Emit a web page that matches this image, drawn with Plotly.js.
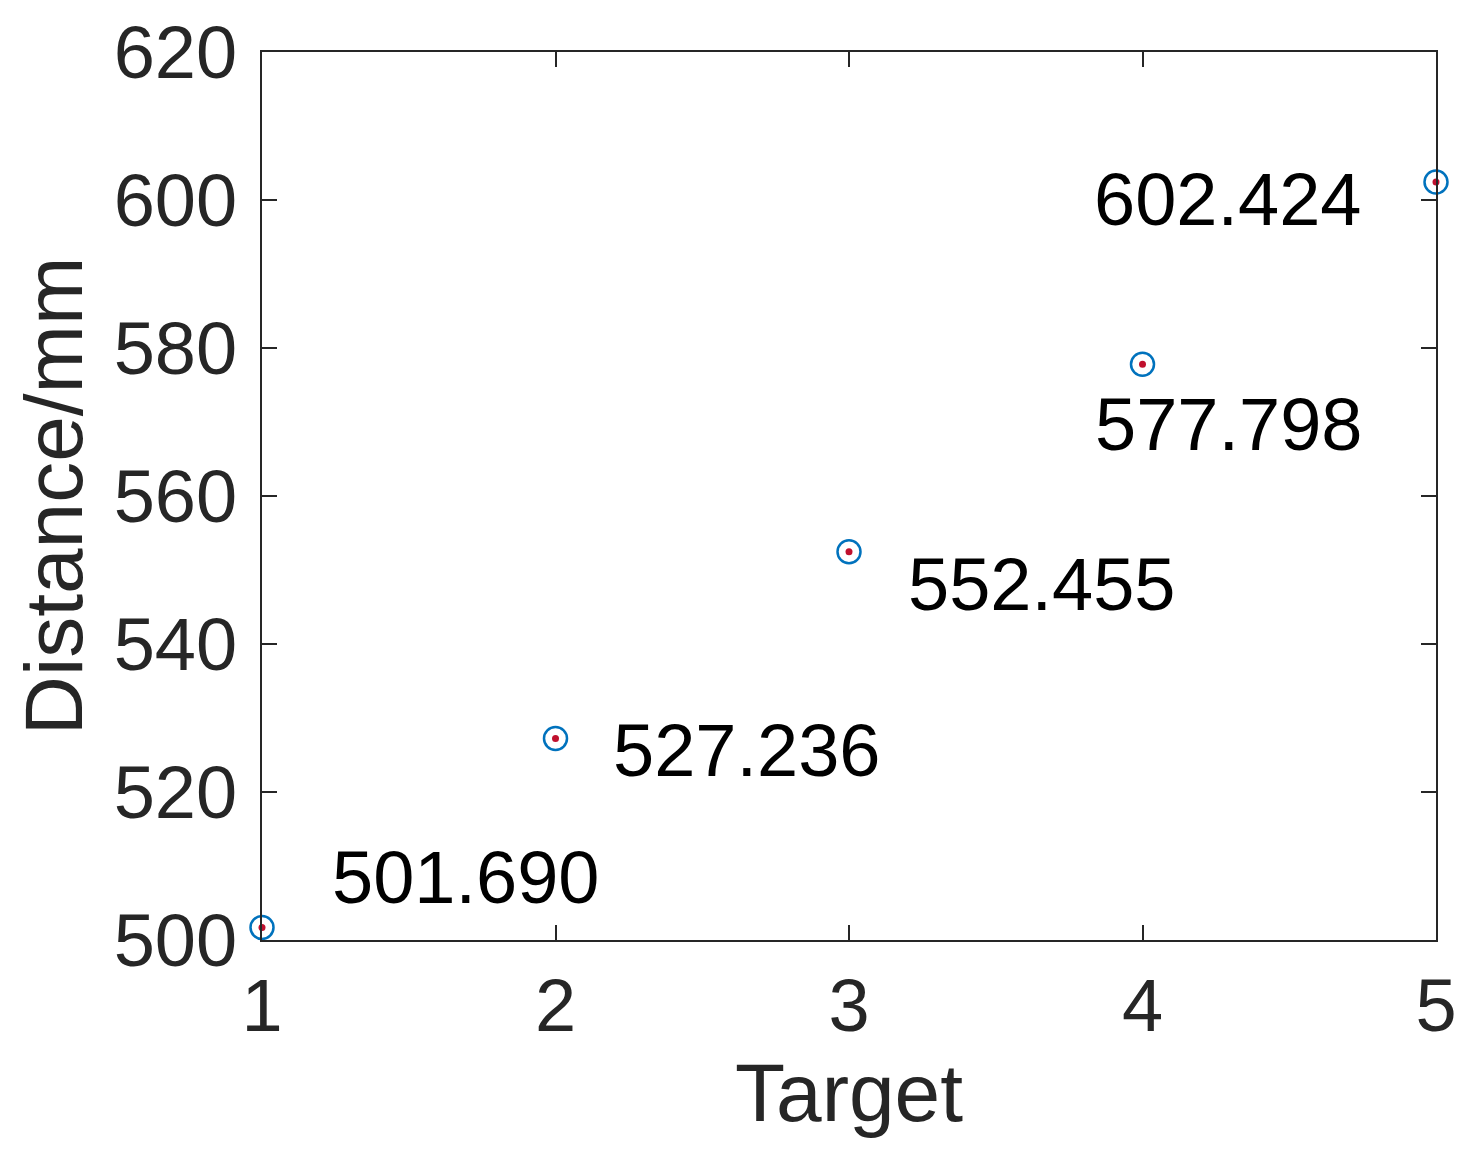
<!DOCTYPE html>
<html>
<head>
<meta charset="utf-8">
<script src="https://cdn.plot.ly/plotly-3.0.1.min.js"></script>
<style>
  html, body { margin: 0; padding: 0; background: #fff; }
  #chart { width: 1470px; height: 1162px; }
</style>
</head>
<body>
<div id="chart"></div>
<script>
// measured distance for each target
const targets = [1, 2, 3, 4, 5]
const distances = [501.690, 527.236, 552.455, 577.798, 602.424]
const xTicks = [1, 2, 3, 4, 5]
const yTicks = [500, 520, 540, 560, 580, 600, 620]

const font = 'Arial, "Liberation Sans", Helvetica, sans-serif'
const axisColor = '#262626'

// label placement next to each point, in pixels
const labelPlace = [
  { xshift: 68, yshift: 50, xanchor: 'left' },
  { xshift: 55, yshift: -12, xanchor: 'left' },
  { xshift: 57, yshift: -33, xanchor: 'left' },
  { xshift: -50, yshift: -60, xanchor: 'left' },
  { xshift: -72, yshift: -17, xanchor: 'right' }
]

const annotations = targets.map((t, i) => ({
  x: t,
  y: distances[i],
  xref: 'x',
  yref: 'y',
  text: distances[i].toFixed(3),
  showarrow: false,
  xanchor: labelPlace[i].xanchor,
  yanchor: 'middle',
  xshift: labelPlace[i].xshift,
  yshift: labelPlace[i].yshift,
  font: { family: font, size: 74, color: '#000' }
}))

const axisCommon = {
  showgrid: false,
  zeroline: false,
  showline: true,
  mirror: 'ticks',
  linecolor: axisColor,
  linewidth: 2,
  ticks: 'inside',
  ticklen: 15,
  tickwidth: 2,
  tickcolor: axisColor,
  tickfont: { family: font, size: 74, color: axisColor }
}

Plotly.newPlot('chart', [
  {
    x: targets,
    y: distances,
    type: 'scatter',
    mode: 'markers',
    cliponaxis: false,
    marker: {
      symbol: 'circle-open',
      size: 23,
      color: '#0072BD',
      line: { width: 2.5, color: '#0072BD' }
    },
    hoverinfo: 'skip'
  },
  {
    x: targets,
    y: distances,
    type: 'scatter',
    mode: 'markers',
    cliponaxis: false,
    marker: { symbol: 'circle', size: 7, color: '#C0102E' },
    hoverinfo: 'skip'
  }
], {
  width: 1470,
  height: 1162,
  margin: { l: 262, r: 34, t: 52, b: 222 },
  paper_bgcolor: '#fff',
  plot_bgcolor: '#fff',
  showlegend: false,
  xaxis: Object.assign({}, axisCommon, {
    range: [1, 5],
    tickvals: xTicks,
    ticktext: xTicks.map(String),
    ticklabelstandoff: 0,
    title: { text: 'Target', font: { family: font, size: 82, color: axisColor }, standoff: 12 }
  }),
  yaxis: Object.assign({}, axisCommon, {
    range: [500, 620],
    tickvals: yTicks,
    ticktext: yTicks.map(String),
    ticklabelstandoff: 8,
    title: { text: 'Distance/mm', font: { family: font, size: 82, color: axisColor }, standoff: 4 }
  }),
  annotations: annotations
}, { displayModeBar: false, staticPlot: true })
</script>
</body>
</html>
